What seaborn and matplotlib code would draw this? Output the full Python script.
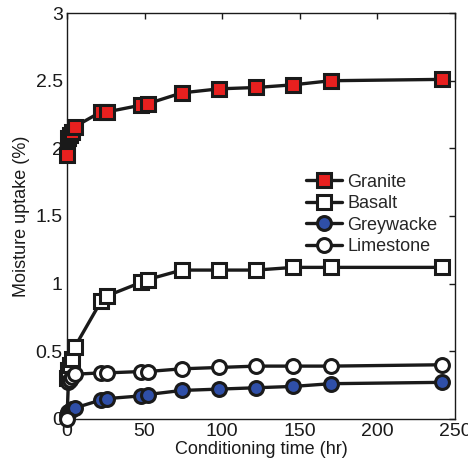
import matplotlib
matplotlib.use("Agg")
import matplotlib.pyplot as plt
import seaborn as sns
import pandas as pd

time_hr = [0, 1, 2, 3, 5, 22, 26, 48, 52, 74, 98, 122, 146, 170, 242]
granite = [1.95, 2.08, 2.10, 2.12, 2.16, 2.27, 2.27, 2.32, 2.33, 2.41, 2.44, 2.45, 2.47, 2.50, 2.51]
basalt = [0.30, 0.36, 0.40, 0.44, 0.53, 0.87, 0.91, 1.01, 1.03, 1.10, 1.10, 1.10, 1.12, 1.12, 1.12]
greywacke = [0.03, 0.05, 0.06, 0.07, 0.08, 0.14, 0.15, 0.17, 0.18, 0.21, 0.22, 0.23, 0.24, 0.26, 0.27]
limestone = [0.00, 0.27, 0.29, 0.31, 0.33, 0.34, 0.34, 0.35, 0.35, 0.37, 0.38, 0.39, 0.39, 0.39, 0.40]

series = {"Granite": granite, "Basalt": basalt, "Greywacke": greywacke, "Limestone": limestone}
markers = {"Granite": "s", "Basalt": "s", "Greywacke": "o", "Limestone": "o"}
faces = {"Granite": "#e8201f", "Basalt": "white", "Greywacke": "#2f4fa8", "Limestone": "white"}

sns.set_style("white")
plt.rcParams["font.family"] = ["Liberation Sans", "DejaVu Sans"]

fig = plt.figure(figsize=(4.68, 4.68), dpi=100)
ax = fig.add_axes([0.143, 0.105, 0.829, 0.867])

for name, vals in series.items():
    df = pd.DataFrame({"t": time_hr, "v": vals})
    sns.lineplot(data=df, x="t", y="v", ax=ax, color="#1a1a1a", linewidth=2.4,
                 marker=markers[name], markersize=9.5 if markers[name] == "s" else 10,
                 markerfacecolor=faces[name], markeredgecolor="#1a1a1a",
                 markeredgewidth=2.2, label=name, sort=False, zorder=3,
                 clip_on=False)

ax.set_xlim(0, 250)
ax.set_ylim(0, 3)
ax.set_xticks([0, 50, 100, 150, 200, 250])
ax.set_yticks([0, 0.5, 1, 1.5, 2, 2.5, 3])
ax.set_yticklabels(["0", "0.5", "1", "1.5", "2", "2.5", "3"])
ax.tick_params(direction="in", length=4, width=1, top=True, right=True,
               labelsize=14, colors="#1a1a1a", pad=3)
for s in ax.spines.values():
    s.set_visible(True)
    s.set_color("#1a1a1a")
    s.set_linewidth(1.0)
ax.set_xlabel("Conditioning time (hr)", fontsize=13, labelpad=1, color="#1a1a1a")
ax.set_ylabel("Moisture uptake (%)", fontsize=13, labelpad=4, color="#1a1a1a")

ax.legend(loc="upper left", bbox_to_anchor=(0.597, 0.622), frameon=False,
          fontsize=13, handlelength=2.0, handletextpad=0.3, labelspacing=0.25,
          borderaxespad=0)

fig.savefig("out.png", dpi=100)
